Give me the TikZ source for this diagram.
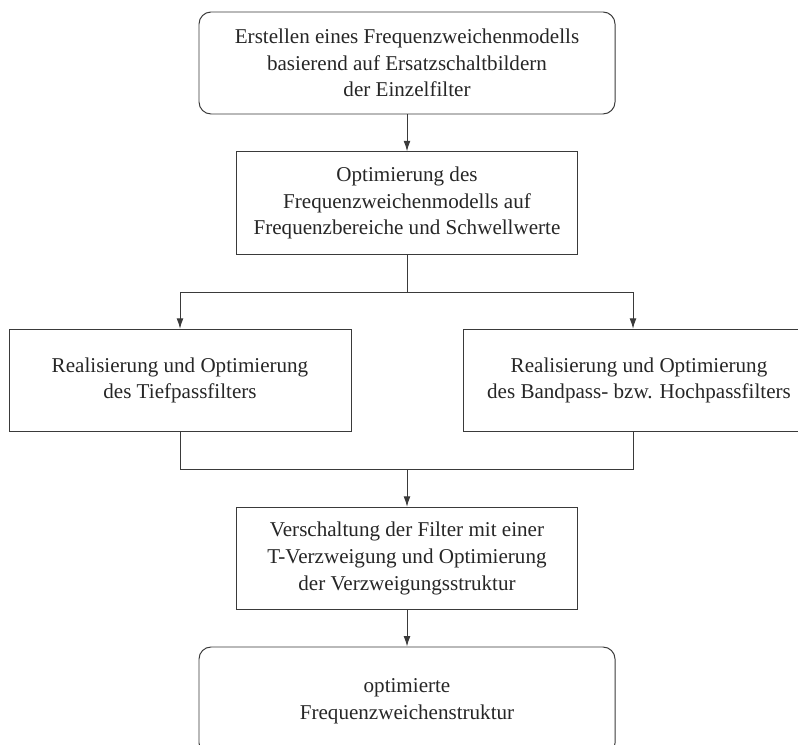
\documentclass[tikz,border=0pt]{standalone}
\usepackage{fontspec}
\setmainfont{Liberation Serif}
\usepackage{xcolor}
\usepackage{tikz}
\usetikzlibrary{arrows.meta,positioning,calc}
\definecolor{ink}{HTML}{262626}
\definecolor{edgegray}{HTML}{3A3A3A}
\tikzset{
  >={Latex[length=2.6mm,width=1.7mm]},
  flowtext/.style={font=\fontsize{15}{19}\selectfont, text=ink, align=center, inner sep=0pt},
  endbox/.style={flowtext, draw=edgegray, line width=0.7pt, rounded corners=3mm,
                 minimum width=10.4cm, minimum height=2.55cm},
  procbox/.style={flowtext, draw=edgegray, line width=0.7pt,
                  minimum width=8.55cm, minimum height=2.56cm},
  flow/.style={->, draw=edgegray, line width=0.7pt},
}
\begin{document}
\begin{tikzpicture}[line join=miter]
\useasboundingbox (0,0) rectangle (19.95,-18.625);

% ===================== top: model and optimisation =====================
\node[endbox] (modell) at (10.175,-1.575)
  {Erstellen eines Frequenzweichenmodells\\basierend auf Ersatzschaltbildern\\der Einzelfilter};
\node[procbox, minimum width=8.525cm] (optim) at (10.175,-5.075)
  {Optimierung des\\Frequenzweichenmodells auf\\Frequenzbereiche und Schwellwerte};
\draw[flow] (modell) -- (optim);

% ===================== middle: the two filters =====================
\node[procbox] (tief) at (4.5,-9.5125)
  {Realisierung und Optimierung\\des Tiefpassfilters};
\node[procbox, minimum width=8.8cm] (hoch) at (15.975,-9.5125)
  {Realisierung und Optimierung\\des Bandpass- bzw. Hochpassfilters};
\coordinate (split) at ($(optim.south)+(0,-0.95)$);
\draw[draw=edgegray, line width=0.7pt] (optim.south) -- (split);
\draw[flow] (split) -| (tief.north);
\draw[flow] (split) -| ($(hoch.north)+(-0.15,0)$);

% ===================== bottom: T-junction and result =====================
\node[procbox, minimum width=8.525cm] (tvz) at (10.175,-13.9625)
  {Verschaltung der Filter mit einer\\T-Verzweigung und Optimierung\\der Verzweigungsstruktur};
\coordinate (merge) at ($(tvz.north)+(0,0.925)$);
\draw[draw=edgegray, line width=0.7pt] (tief.south) |- (merge) -| ($(hoch.south)+(-0.15,0)$);
\draw[flow] (merge) -- (tvz);

\node[endbox, minimum height=2.7cm] (ergebnis) at (10.175,-17.525)
  {optimierte\\Frequenzweichenstruktur};
\draw[flow] (tvz) -- (ergebnis);

\end{tikzpicture}
\end{document}
